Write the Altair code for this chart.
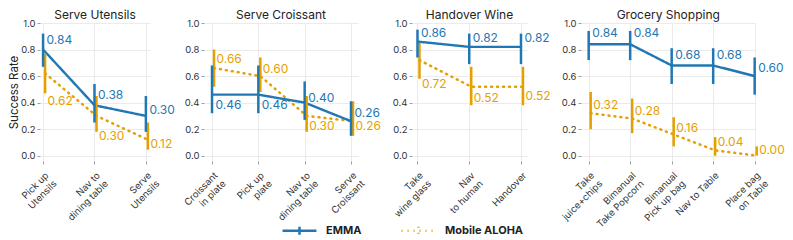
import altair as alt
import pandas as pd

BLUE = "#1f77b4"
ORANGE = "#e69f00"
SERIES = ["EMMA", "Mobile ALOHA"]
FONT = "Inter"

# ---------------- data ----------------
# Panel 1
p1_title = "Serve Utensils"
p1_cats = ["Pick up|Utensils", "Nav to|dining table", "Serve|Utensils"]
p1_emma = [0.80, 0.38, 0.30]
p1_emma_lo = [0.67, 0.25, 0.18]
p1_emma_hi = [0.92, 0.54, 0.45]
p1_emma_txt = ["0.84", "0.38", "0.30"]
p1_aloha = [0.62, 0.30, 0.12]
p1_aloha_lo = [0.47, 0.18, 0.045]
p1_aloha_hi = [0.77, 0.45, 0.25]
p1_aloha_txt = ["0.62", "0.30", "0.12"]

# Panel 2
p2_title = "Serve Croissant"
p2_cats = ["Croissant|in plate", "Pick up|plate", "Nav to|dining table", "Serve|Croissant"]
p2_emma = [0.46, 0.46, 0.40, 0.26]
p2_emma_lo = [0.32, 0.32, 0.27, 0.15]
p2_emma_hi = [0.68, 0.68, 0.56, 0.41]
p2_emma_txt = ["0.46", "0.46", "0.40", "0.26"]
p2_aloha = [0.66, 0.60, 0.30, 0.26]
p2_aloha_lo = [0.52, 0.48, 0.18, 0.15]
p2_aloha_hi = [0.80, 0.74, 0.45, 0.41]
p2_aloha_txt = ["0.66", "0.60", "0.30", "0.26"]

# Panel 3
p3_title = "Handover Wine"
p3_cats = ["Take|wine glass", "Nav|to human", "Handover"]
p3_emma = [0.86, 0.82, 0.82]
p3_emma_lo = [0.74, 0.69, 0.69]
p3_emma_hi = [0.95, 0.92, 0.92]
p3_emma_txt = ["0.86", "0.82", "0.82"]
p3_aloha = [0.72, 0.52, 0.52]
p3_aloha_lo = [0.58, 0.38, 0.38]
p3_aloha_hi = [0.85, 0.67, 0.67]
p3_aloha_txt = ["0.72", "0.52", "0.52"]

# Panel 4
p4_title = "Grocery Shopping"
p4_cats = ["Take|juice+chips", "Bimanual|Take Popcorn", "Bimanual|Pick up bag",
           "Nav to Table", "Place bag|on Table"]
p4_emma = [0.84, 0.84, 0.68, 0.68, 0.60]
p4_emma_lo = [0.72, 0.72, 0.54, 0.54, 0.46]
p4_emma_hi = [0.94, 0.94, 0.81, 0.81, 0.74]
p4_emma_txt = ["0.84", "0.84", "0.68", "0.68", "0.60"]
p4_aloha = [0.32, 0.28, 0.16, 0.04, 0.00]
p4_aloha_lo = [0.20, 0.17, 0.07, 0.00, 0.00]
p4_aloha_hi = [0.48, 0.43, 0.29, 0.14, 0.07]
p4_aloha_txt = ["0.32", "0.28", "0.16", "0.04", "0.00"]

# ---------------- layout / style (not data) ----------------
HEIGHT = 138
YMIN, YMAX = -0.04, 1.0
PXU = HEIGHT / (YMAX - YMIN)
# vertical pixel offsets of the value labels from their points
p1_dy = ([-9.4, -10.1, -5.4], [27.5, 19.9, 4.3])
p2_dy = ([10.7, 10.7, -5.1, -7.7], [-8.9, -6.9, 10.5, 5.2])
p3_dy = ([-8.6, -9.2, -9.2], [24.1, 10.9, 9.7])
p4_dy = ([-10.8, -10.8, -10.3, -10.3, -8.5], [-8.1, -7.5, -6.7, -8.0, -6.0])
# panel widths and x domains
p1_geo = (110, [-0.06, 2.08])
p2_geo = (154, [-0.173, 3.151])
p3_geo = (115, [-0.106, 2.116])
p4_geo = (174.5, [-0.185, 4.02])


def make_df(cats, emma, elo, ehi, etxt, aloha, alo, ahi, atxt, dys):
    rows = []
    for s, vals, lo, hi, txt, dy in [
        ("EMMA", emma, elo, ehi, etxt, dys[0]),
        ("Mobile ALOHA", aloha, alo, ahi, atxt, dys[1]),
    ]:
        for i in range(len(cats)):
            rows.append(dict(idx=i, series=s, value=vals[i], lo=lo[i], hi=hi[i],
                             txt=txt[i], label_y=vals[i] - dy[i] / PXU))
    return pd.DataFrame(rows)


LEG = alt.Legend(
    title=None, orient="none", direction="horizontal", legendX=241, legendY=189,
    symbolType="M-1,0H1M0,-0.24V0.24", symbolSize=1150, symbolStrokeWidth=2.5,
    labelFont=FONT, labelFontSize=11, labelFontWeight="bold", labelColor="#222",
    labelOffset=8, columnPadding=34,
)


def panel(title, cats, df, geo, first):
    width, dom = geo
    arr = "[" + ",".join("'" + c + "'" for c in cats) + "]"
    xax = alt.Axis(values=list(range(len(cats))), title=None, grid=True,
                   labelExpr="split(" + arr + "[datum.value], '|')",
                   labelAngle=-45, labelAlign="right", labelBaseline="top",
                   labelOverlap=False,
                   labelPadding=6, labelFontSize=9.5, labelLineHeight=11.5)
    yax = alt.Axis(values=[0, 0.2, 0.4, 0.6, 0.8, 1.0], format=".1f", labelOverlap=False,
                   title="Success Rate" if first else None)
    ysc = alt.Scale(domain=[YMIN, YMAX], nice=False)
    x = alt.X("idx:Q", scale=alt.Scale(domain=dom, nice=False, zero=False), axis=xax)
    y = alt.Y("value:Q", scale=ysc, axis=yax)
    ylo = alt.Y("lo:Q", scale=ysc, axis=yax)
    ylab = alt.Y("label_y:Q", scale=ysc, axis=yax)
    color = alt.Color("series:N", scale=alt.Scale(domain=SERIES, range=[BLUE, ORANGE]), legend=LEG)
    dash = alt.StrokeDash("series:N", scale=alt.Scale(domain=SERIES, range=[[1, 0], [1, 5]]), legend=LEG)
    base = alt.Chart(df)
    emma = base.transform_filter(alt.datum.series == "EMMA")
    aloha = base.transform_filter(alt.datum.series == "Mobile ALOHA")

    line_a = aloha.mark_line(strokeWidth=2.5, strokeCap="round", xOffset=2).encode(
        x=x, y=y, color=color, strokeDash=dash)
    line_e = emma.mark_line(strokeWidth=2.4).encode(x=x, y=y, color=color, strokeDash=dash)
    bar_e = emma.mark_rule(strokeWidth=2.5, color=BLUE).encode(x=x, y=ylo, y2="hi:Q")
    bar_a = aloha.mark_rule(strokeWidth=2.5, color=ORANGE, xOffset=2).encode(x=x, y=ylo, y2="hi:Q")
    txt_e = emma.mark_text(align="left", baseline="middle", dx=3.5, fontSize=12,
                           color=BLUE, font=FONT).encode(x=x, y=ylab, text="txt:N")
    txt_a = aloha.mark_text(align="left", baseline="middle", dx=4.5, fontSize=12,
                            color=ORANGE, font=FONT).encode(x=x, y=ylab, text="txt:N")
    return alt.layer(line_a, line_e, bar_a, bar_e, txt_a, txt_e).properties(
        width=width, height=HEIGHT,
        title=alt.Title(title, fontSize=12, fontWeight="normal", font=FONT, color="#222", offset=-4),
    )


c1 = panel(p1_title, p1_cats, make_df(p1_cats, p1_emma, p1_emma_lo, p1_emma_hi, p1_emma_txt,
                                      p1_aloha, p1_aloha_lo, p1_aloha_hi, p1_aloha_txt, p1_dy), p1_geo, True)
c2 = panel(p2_title, p2_cats, make_df(p2_cats, p2_emma, p2_emma_lo, p2_emma_hi, p2_emma_txt,
                                      p2_aloha, p2_aloha_lo, p2_aloha_hi, p2_aloha_txt, p2_dy), p2_geo, False)
c3 = panel(p3_title, p3_cats, make_df(p3_cats, p3_emma, p3_emma_lo, p3_emma_hi, p3_emma_txt,
                                      p3_aloha, p3_aloha_lo, p3_aloha_hi, p3_aloha_txt, p3_dy), p3_geo, False)
c4 = panel(p4_title, p4_cats, make_df(p4_cats, p4_emma, p4_emma_lo, p4_emma_hi, p4_emma_txt,
                                      p4_aloha, p4_aloha_lo, p4_aloha_hi, p4_aloha_txt, p4_dy), p4_geo, False)

chart = alt.hconcat(c1, c2, c3, c4, spacing=54, bounds="flush").properties(
    padding={"left": 0, "top": 1, "right": 0, "bottom": 0}
).configure_view(stroke=None).configure_axis(
    labelFont=FONT, titleFont=FONT, labelColor="#333", titleColor="#222",
    labelFontSize=9.5, titleFontSize=11.5, titleFontWeight="normal",
    gridColor="#e6e6e6", gridWidth=0.8, domain=False,
    tickColor="#888", tickSize=3, tickWidth=0.8,
).configure_axisY(labelPadding=2, titlePadding=1)

chart.save("out.html", embed_options={"renderer": "svg", "actions": False})
